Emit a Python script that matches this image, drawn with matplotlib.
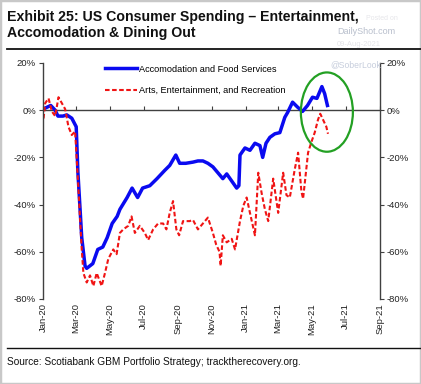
import numpy as np
import pandas as pd
import matplotlib
matplotlib.use('Agg')
import matplotlib.pyplot as plt
import matplotlib.dates as mdates
from matplotlib.patches import Ellipse, Rectangle
from matplotlib.lines import Line2D
from matplotlib.ticker import FuncFormatter, MultipleLocator

plt.rcParams['font.family'] = ['Liberation Sans', 'DejaVu Sans']

start = pd.Timestamp('2020-01-01')

# days since 2020-01-01, values in %
food_days = [0, 5, 14, 22, 27, 36, 43, 52, 60, 63, 70, 76, 79, 90, 99, 108, 116, 125, 134, 139,
             152, 161, 166, 171, 180, 193, 206, 220, 229, 240, 247, 258, 271, 280, 289, 298, 307,
             316, 325, 332, 341, 350, 354, 356, 365, 374, 383, 392, 397, 403, 410, 419, 428, 437,
             442, 451, 460, 469, 478, 487, 495, 504, 509, 514]
food_vals = [0.5, 1, 2, 0, -2.5, -2.5, -2, -3.4, -7, -26, -54, -66, -67, -65, -59, -58, -54, -48,
             -45, -42, -37, -33, -35, -37, -33, -32, -29, -25.5, -23.4, -19, -22.5, -22.5, -22,
             -21.5, -21.5, -22.5, -24, -26.5, -29, -27, -30, -33, -32, -19, -16, -17, -14, -15,
             -20, -14, -11.5, -10, -9.5, -3, -1, 3.4, 1.3, -0.5, 2, 5.5, 5, 10, 7, 2]

arts_days = [1, 4, 10, 16, 22, 28, 34, 40, 46, 52, 58, 64, 70, 73, 79, 85, 91, 97, 106, 112,
             118, 127, 133, 139, 145, 154, 160, 166, 175, 184, 190, 199, 208, 217, 223, 229, 235,
             241, 246, 253, 265, 271, 280, 289, 298, 307, 313, 319, 321, 325, 332, 341, 347, 356,
             362, 368, 374, 383, 389, 395, 401, 407, 416, 425, 434, 440, 446, 455, 461, 467, 470,
             479, 485, 491, 497, 501, 506, 512, 515]
arts_vals = [-3.5, 3, 5, -0.5, -2.5, 5.5, 3, 0.5, -7, -10.5, -9, -33, -59, -69, -73, -70, -74.5,
             -69, -74.5, -69, -63, -59, -61, -52, -50.5, -49, -45, -52, -49, -52, -55, -50.5, -48,
             -48, -50.5, -43.5, -38.5, -50.5, -53, -47, -47, -46.5, -50.5, -48, -45.5, -52, -57,
             -60, -66, -53, -56, -54.5, -59, -47, -40.5, -37, -43.5, -53, -26.5, -35, -42, -47,
             -29, -43.5, -26.5, -36, -37, -25, -18, -34.5, -37.5, -18, -13.5, -9.5, -4, -1.5, -4,
             -7, -10]

food_dates = start + pd.to_timedelta(food_days, unit='D')
arts_dates = start + pd.to_timedelta(arts_days, unit='D')

W, H = 421, 384
fig = plt.figure(figsize=(W / 100, H / 100), dpi=100)
ax = fig.add_axes([43 / W, 1 - 299 / H, 337 / W, 236 / H])

ax.plot(food_dates, food_vals, color='#0A0AF0', lw=2.5, label='Accomodation and Food Services',
        solid_joinstyle='round')
ax.plot(arts_dates, arts_vals, color='#F01414', lw=1.5, ls=(0, (2.2, 1.2)),
        label='Arts, Entertainment, and Recreation')

ax.set_xlim(pd.Timestamp('2020-01-01'), pd.Timestamp('2021-09-01'))
ax.set_ylim(-80, 20)
ax.yaxis.set_major_locator(MultipleLocator(20))
ax.yaxis.set_major_formatter(FuncFormatter(lambda v, p: f'{v:.0f}%'))

loc = mdates.MonthLocator(bymonth=[1, 3, 5, 7, 9, 11])
ax.xaxis.set_major_locator(loc)
ax.xaxis.set_major_formatter(mdates.DateFormatter('%b-%y'))
ax.tick_params(axis='x', length=0, pad=3, labelsize=6.8, labelcolor='#222222', labelrotation=90)
ax.tick_params(axis='y', direction='out', length=3, width=0.8, color='#404040',
               left=True, right=True, labelleft=True, labelright=True,
               labelsize=6.8, labelcolor='#222222', pad=2)

for s in ['top', 'bottom']:
    ax.spines[s].set_visible(False)
for s in ['left', 'right']:
    ax.spines[s].set_color('#404040')
    ax.spines[s].set_linewidth(1.0)

# zero line with month tick marks
sec = ax.secondary_xaxis(0.8)
sec.xaxis.set_major_locator(mdates.MonthLocator(bymonth=[1, 3, 5, 7, 9, 11]))
sec.tick_params(axis='x', direction='out', length=3, width=0.8, color='#404040',
                labeltop=False, labelbottom=False)
sec.spines['top'].set_color('#404040')
sec.spines['top'].set_linewidth(1.0)
sec.spines['bottom'].set_visible(False)

ell = Ellipse((mdates.date2num(pd.Timestamp('2021-05-28')), -0.8), width=94, height=33.6,
              fill=False, edgecolor='#23A023', lw=1.6, zorder=5)
ax.add_patch(ell)

ax.legend(loc='upper left', bbox_to_anchor=(0.165, 1.02), frameon=False, fontsize=6.6,
          handlelength=3.5, handletextpad=0.2, labelspacing=1.35, borderaxespad=0.3)

fig.text(7 / W, 1 - 17 / H, 'Exhibit 25: US Consumer Spending \u2013 Entertainment,',
         fontsize=10.2, fontweight='bold', va='center', ha='left', color='#111111')
fig.text(7 / W, 1 - 33 / H, 'Accomodation & Dining Out',
         fontsize=10.2, fontweight='bold', va='center', ha='left', color='#111111')

fig.text(366 / W, 1 - 19 / H, 'Posted on', fontsize=5.0, color='#e6e6ea', ha='left', va='center')
fig.text(337 / W, 1 - 32 / H, 'DailyShot.com', fontsize=6.5, color='#b8bfcc', ha='left', va='center')
fig.text(337 / W, 1 - 44 / H, '09-Aug-2021', fontsize=5.5, color='#e4e4e8', ha='left', va='center')
fig.text(330 / W, 1 - 65 / H, '@SoberLook', fontsize=6.2, color='#c6cddc', ha='left', va='center')

fig.add_artist(Line2D([7 / W, 1.0], [1 - 49 / H, 1 - 49 / H], color='#111111', lw=1.3))
fig.add_artist(Line2D([7 / W, 1.0], [1 - 348 / H, 1 - 348 / H], color='#111111', lw=1.0))
fig.text(7 / W, 1 - 362 / H, 'Source: Scotiabank GBM Portfolio Strategy; tracktherecovery.org.',
         fontsize=7.3, va='center', ha='left', color='#111111')
fig.add_artist(Rectangle((0, 0), 1, 1, transform=fig.transFigure, fill=False,
                         edgecolor='#c8c8c8', lw=2.5))

fig.savefig('out.png', dpi=100)
